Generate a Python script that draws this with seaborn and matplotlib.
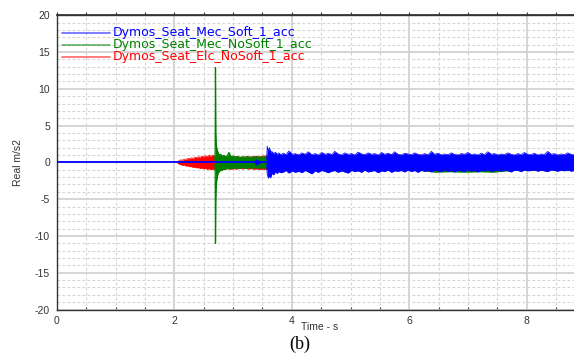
import numpy as np
import pandas as pd
import matplotlib
matplotlib.use("Agg")
import matplotlib.pyplot as plt
import seaborn as sns
from matplotlib.ticker import MultipleLocator, NullFormatter

# ---------------- data ----------------
series_names = ["Dymos_Seat_Mec_Soft_1_acc",
                "Dymos_Seat_Mec_NoSoft_1_acc",
                "Dymos_Seat_Elc_NoSoft_1_acc"]

# blue: quiet zero line, then noise band (upper / lower envelope)
blue_flat_t = [0.0, 3.57]
blue_flat_v = [0.0, 0.0]
blue_mark_t = [3.42]
blue_mark_v = [0.0]
blue_t = [3.57, 3.58, 3.60, 3.62, 3.64, 3.66, 3.69, 3.72, 3.75, 3.78, 3.81,
          3.86, 3.90, 3.95, 4.01, 4.06, 4.12, 4.17, 4.23, 4.28, 4.34,
          4.40, 4.45, 4.51, 4.57, 4.62, 4.68, 4.73, 4.79, 4.85, 4.90,
          4.96, 5.02, 5.07, 5.13, 5.19, 5.24, 5.30, 5.36, 5.41, 5.47,
          5.53, 5.58, 5.64, 5.70, 5.75, 5.81, 5.87, 5.92, 5.98, 6.04,
          6.09, 6.15, 6.21, 6.26, 6.32, 6.38, 6.43, 6.49, 6.55, 6.60,
          6.66, 6.72, 6.77, 6.83, 6.89, 6.94, 7.00, 7.06, 7.11, 7.17,
          7.23, 7.28, 7.34, 7.40, 7.45, 7.51, 7.57, 7.62, 7.68, 7.74,
          7.79, 7.85, 7.91, 7.96, 8.02, 8.08, 8.13, 8.19, 8.25, 8.30,
          8.36, 8.42, 8.47, 8.53, 8.59, 8.64, 8.70, 8.76, 8.81, 8.85]
blue_hi = [0.3, 2.2, 1.6, 2.0, 1.4, 1.5, 1.2, 1.4, 1.1, 1.3, 1.05,
           1.25, 1.05, 1.55, 1.10, 1.20, 1.00, 1.30, 1.10, 1.45, 1.05,
           1.20, 1.00, 1.35, 1.10, 1.25, 1.05, 1.50, 1.15, 1.00, 1.30,
           1.10, 1.20, 1.00, 1.40, 1.15, 1.05, 1.30, 1.10, 1.20, 1.00,
           1.35, 1.10, 1.25, 1.05, 1.45, 1.10, 1.00, 1.25, 1.15, 1.05,
           1.30, 1.10, 1.00, 1.20, 1.05, 1.50, 1.10, 1.25, 1.00, 1.15,
           1.05, 1.30, 1.10, 1.00, 1.20, 1.10, 1.35, 1.05, 1.15, 1.00,
           1.25, 1.05, 1.45, 1.10, 1.20, 1.00, 1.15, 1.05, 1.30, 1.10,
           1.00, 1.20, 1.05, 1.35, 1.10, 1.05, 1.25, 1.00, 1.15, 1.05,
           1.50, 1.10, 1.20, 1.00, 1.15, 1.05, 1.30, 1.10, 1.00, 1.20]
blue_lo = [-0.3, -1.6, -2.15, -1.8, -2.1, -1.5, -1.7, -1.3, -1.5, -1.25, -1.4,
           -1.30, -1.10, -1.45, -1.15, -1.35, -1.20, -1.40, -1.10, -1.30, -1.55,
           -1.15, -1.35, -1.10, -1.25, -1.40, -1.20, -1.10, -1.35, -1.15, -1.30,
           -1.45, -1.10, -1.25, -1.15, -1.35, -1.05, -1.30, -1.20, -1.10, -1.40,
           -1.15, -1.25, -1.05, -1.35, -1.15, -1.20, -1.10, -1.30, -1.05, -1.25,
           -1.10, -1.35, -1.05, -1.20, -1.10, -1.30, -1.05, -1.15, -1.25, -1.00,
           -1.20, -1.10, -1.30, -1.05, -1.15, -1.25, -1.00, -1.20, -1.10, -1.30,
           -1.05, -1.15, -1.00, -1.25, -1.10, -1.05, -1.20, -1.00, -1.15, -1.30,
           -1.05, -1.10, -1.25, -1.00, -1.15, -1.10, -1.00, -1.20, -1.05, -1.15,
           -1.25, -1.00, -1.10, -1.20, -1.05, -1.15, -1.00, -1.20, -1.10, -1.05]

# green: impact spike at 2.7 s, then decaying noise band
green_t = [2.69, 2.695, 2.70, 2.705, 2.71, 2.715, 2.72, 2.73, 2.74, 2.75,
           2.77, 2.79, 2.81, 2.84, 2.87, 2.90, 2.93, 2.96, 3.00, 3.04,
           3.08, 3.12, 3.16, 3.20, 3.24, 3.28, 3.32, 3.36, 3.40, 3.44,
           3.48, 3.52, 3.56, 3.60,
           3.70, 3.95, 4.20, 4.45, 4.70, 4.95, 5.20, 5.45, 5.70, 5.95,
           6.20, 6.45, 6.70, 6.95, 7.20, 7.45, 7.70, 7.95, 8.20, 8.45,
           8.70, 8.85]
green_hi = [0.3, 2.0, 12.9, 4.2, 3.0, 2.4, 2.0, 1.7, 1.4, 1.2,
            1.0, 1.1, 0.85, 0.95, 0.8, 0.9, 1.35, 0.8, 0.85, 0.7,
            0.8, 0.65, 0.75, 0.7, 0.8, 0.65, 0.75, 0.7, 0.8, 0.65,
            0.75, 0.7, 0.8, 0.9,
            0.9, 0.85, 0.95, 0.9, 0.85, 0.9, 0.95, 0.85, 0.9, 0.9,
            0.85, 0.95, 0.9, 0.85, 0.9, 0.95, 0.85, 0.9, 0.9, 0.85,
            0.9, 0.85]
green_lo = [-0.3, -1.5, -11.0, -5.2, -3.8, -3.0, -2.5, -2.0, -1.6, -1.4,
            -1.2, -1.0, -1.1, -0.85, -0.95, -0.8, -0.9, -0.75, -0.85, -0.7,
            -0.8, -0.75, -0.7, -0.8, -0.7, -0.75, -0.8, -0.7, -0.75, -0.7,
            -0.8, -0.7, -0.75, -0.9,
            -1.1, -1.05, -1.1, -1.0, -1.1, -1.05, -1.1, -1.0, -1.1, -1.05,
            -1.1, -1.3, -1.25, -1.3, -1.25, -1.3, -1.1, -1.05, -1.1, -1.0,
            -1.1, -1.05]

# red: growing noise band from 2.05 s
red_t = [2.05, 2.08, 2.11, 2.14, 2.17, 2.20, 2.23, 2.26, 2.29, 2.32,
         2.35, 2.38, 2.41, 2.44, 2.47, 2.50, 2.53, 2.56, 2.59, 2.62,
         2.65, 2.68, 2.71,
         2.76, 2.81, 2.86, 2.91, 2.96, 3.01, 3.06, 3.11, 3.16, 3.21,
         3.26, 3.31, 3.36, 3.41, 3.46, 3.51, 3.56,
         3.70, 3.95, 4.20, 4.45, 4.70, 4.95, 5.20, 5.45, 5.70, 5.95,
         6.20, 6.45, 6.70, 6.95, 7.20, 7.45, 7.70, 7.95, 8.20, 8.45,
         8.70, 8.85]
red_hi = [0.05, 0.25, 0.35, 0.30, 0.45, 0.40, 0.55, 0.50, 0.62, 0.55,
          0.70, 0.65, 0.78, 0.70, 0.85, 0.75, 0.92, 0.80, 0.98, 0.85,
          1.00, 0.90, 0.80,
          0.85, 0.75, 0.80, 0.70, 0.78, 0.72, 0.80, 0.68, 0.75, 0.70,
          0.78, 0.72, 0.80, 0.85, 0.78, 0.90, 0.85,
          1.0, 0.95, 1.05, 0.9, 1.0, 0.95, 1.0, 0.9, 1.05, 0.95,
          1.0, 0.9, 0.95, 1.0, 0.9, 0.95, 1.0, 0.9, 0.95, 0.9,
          1.0, 0.95]
red_lo = [-0.05, -0.25, -0.30, -0.40, -0.35, -0.50, -0.45, -0.60, -0.55, -0.68,
          -0.62, -0.75, -0.70, -0.82, -0.75, -0.88, -0.80, -0.95, -0.85, -1.00,
          -0.90, -0.95, -0.85,
          -0.90, -0.85, -0.95, -0.80, -0.92, -0.85, -0.90, -0.80, -0.88, -0.82,
          -0.90, -0.85, -0.92, -0.88, -0.95, -0.90, -0.95,
          -1.0, -0.95, -1.05, -0.95, -1.0, -0.9, -1.0, -0.95, -1.0, -0.9,
          -1.0, -0.95, -1.0, -0.9, -1.0, -0.95, -1.0, -0.9, -0.95, -1.0,
          -0.95, -0.9]

x_ticks = [0, 2, 4, 6, 8]
y_ticks = [-20, -15, -10, -5, 0, 5, 10, 15, 20]

# ---------------- style ----------------
BLUE, GREEN, RED = "#0000ff", "#008000", "#ff0000"

sns.set_theme(style="white")
plt.rcParams["font.family"] = ["DejaVu Sans"]
plt.rcParams["axes.unicode_minus"] = False

fig = plt.figure(figsize=(5.74, 3.54), dpi=100)
L, R, T, B = 57, 574, 15.3, 309.5
ax = fig.add_axes([L / 574, (354 - B) / 354, (R - L) / 574, (B - T) / 354])


def band(t, hi, lo, color, z, lw):
    n = min(len(t), len(hi), len(lo))
    df = pd.DataFrame({"t": t[:n], "hi": hi[:n], "lo": lo[:n]})
    ax.fill_between(df["t"], df["lo"], df["hi"], color=color, lw=0, zorder=z)
    sns.lineplot(data=df, x="t", y="hi", color=color, lw=lw, ax=ax,
                 estimator=None, sort=False, zorder=z)
    sns.lineplot(data=df, x="t", y="lo", color=color, lw=lw, ax=ax,
                 estimator=None, sort=False, zorder=z)


band(red_t, red_hi, red_lo, RED, 2, 0.5)
band(green_t, green_hi, green_lo, GREEN, 3, 0.9)
band(blue_t, blue_hi, blue_lo, BLUE, 4, 0.5)
sns.lineplot(x=blue_flat_t, y=blue_flat_v, color=BLUE, lw=1.3, ax=ax,
             estimator=None, sort=False, zorder=5)
ax.plot(blue_mark_t, blue_mark_v, marker=">", ms=3.5, color=BLUE, lw=0, zorder=5)

ax.set_xlim(0, (R - L) / 58.7)
ax.set_ylim(-20, 20)
ax.set_xticks(x_ticks)
ax.set_yticks(y_ticks)
ax.set_xticklabels([str(v) for v in x_ticks])
ax.set_yticklabels([str(v) for v in y_ticks])
ax.xaxis.set_minor_locator(MultipleLocator(0.5))
ax.yaxis.set_minor_locator(MultipleLocator(1))

ax.set_axisbelow(True)
ax.grid(which="major", color="#d2d2d2", lw=1.3, ls="-")
ax.grid(which="minor", color="#d4d4d4", lw=0.8, ls=(0, (2.5, 2)))

for s in ["left", "bottom", "top"]:
    ax.spines[s].set_visible(True)
    ax.spines[s].set_color("#333333")
    ax.spines[s].set_linewidth(1.0)
ax.spines["right"].set_visible(False)

ax.tick_params(axis="y", which="major", direction="inout", length=5, width=0.8,
               color="#333333", labelcolor="#333333", pad=2.5, labelsize=7.5)
ax.tick_params(axis="y", which="minor", direction="in", length=2.5, width=0.8,
               color="#333333")
ax.tick_params(axis="x", which="major", direction="out", length=4, width=0.8,
               color="#333333", labelcolor="#333333", pad=0.5, labelsize=7.5)
ax.tick_params(axis="x", which="minor", direction="in", length=2.5, width=0.8,
               color="#333333", bottom=True)
for lab in ax.get_xticklabels() + ax.get_yticklabels():
    lab.set_fontfamily("Liberation Sans")

# top axis ticks pointing outward
sec = ax.secondary_xaxis("top")
sec.set_xticks(x_ticks)
sec.xaxis.set_minor_locator(MultipleLocator(0.5))
sec.xaxis.set_major_formatter(NullFormatter())
sec.tick_params(which="both", direction="out", length=2.5, width=0.8, color="#333333")
sec.spines["top"].set_color("#333333")

ax.set_xlabel("Time - s", fontfamily="Liberation Sans", fontsize=7.5, color="#333333")
ax.xaxis.set_label_coords((320 - L) / (R - L), (B - 327) / (B - T))
ax.xaxis.label.set_va("center")
ax.set_ylabel("Real m/s2", fontfamily="Liberation Sans", fontsize=7.5, color="#333333")
ax.yaxis.set_label_coords((18 - L) / (R - L), (B - 163) / (B - T))
ax.yaxis.label.set_va("center")

# legend drawn as coloured lines + coloured text, top left inside axes
leg_colors = [BLUE, GREEN, RED]
leg_rows = [32.5, 44.5, 56.5]
for name, col, py in zip(series_names, leg_colors, leg_rows):
    yf = (B - py) / (B - T)
    ax.plot([(62 - L) / (R - L), (110 - L) / (R - L)], [yf, yf], color=col,
            alpha=0.6, lw=1.2, transform=ax.transAxes, zorder=6, clip_on=False)
    ax.text((113 - L) / (R - L), yf, name, color=col, fontsize=9,
            fontfamily="DejaVu Sans", va="center", ha="left",
            transform=ax.transAxes, zorder=6)

fig.text(300 / 574, 1 - 348.5 / 354, "(b)", fontfamily="Liberation Serif",
         fontsize=13, ha="center", va="baseline", color="black")

fig.savefig("out.png", dpi=100)
